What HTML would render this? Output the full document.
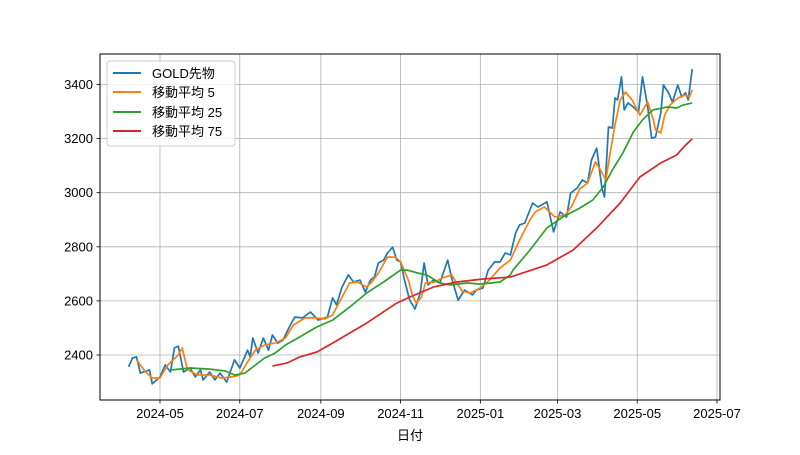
<!DOCTYPE html>
<html><head><meta charset="utf-8"><style>
body{margin:0;background:#fff}
svg text{font-family:"Liberation Sans","Noto Sans CJK JP",sans-serif;font-size:13px;fill:#000}
</style></head><body>
<svg id="chart" width="800" height="450" xmlns="http://www.w3.org/2000/svg">
<rect width="800" height="450" fill="#fff"/>
<g id="grid"></g>
<g id="series"></g>
<rect x="100" y="54" width="620" height="346" fill="none" stroke="#000" stroke-width="1"/>
<g id="axes"></g>
<text x="410" y="440" text-anchor="middle">日付</text>
<g>
<rect x="107" y="61" width="128" height="85" rx="3" fill="#fff" fill-opacity="0.8" stroke="#ccc"/>
<g><line x1="113" y1="73" x2="141" y2="73" stroke="#1f77b4" stroke-width="2"/><text x="152" y="78">GOLD先物</text></g>
<g><line x1="113" y1="92" x2="141" y2="92" stroke="#ff7f0e" stroke-width="2"/><text x="152" y="97">移動平均 5</text></g>
<g><line x1="113" y1="112" x2="141" y2="112" stroke="#2ca02c" stroke-width="2"/><text x="152" y="117">移動平均 25</text></g>
<g><line x1="113" y1="131" x2="141" y2="131" stroke="#d62728" stroke-width="2"/><text x="152" y="136">移動平均 75</text></g>
</g>
</svg>
<script>
// days since 2024-05-01
const goldDays=[-24,-21,-18,-15,-8,-6,0,4,8,11,14,18,23,27,31,33,38,42,46,51,57,61,67,69,71,75,79,83,86,90,94,99,103,109,115,121,128,132,135,139,144,148,153,157,161,164,167,171,174,178,181,184,187,191,195,199,202,205,209,214,220,223,228,233,239,242,247,251,256,260,264,268,272,275,279,285,289,296,301,306,311,314,319,323,327,330,334,338,340,343,346,348,350,353,355,358,362,366,369,373,376,379,383,385,389,392,396,399,402,404,407];
const goldValues=[2356,2389,2393,2333,2345,2293,2319,2363,2337,2426,2433,2337,2352,2319,2345,2308,2337,2308,2333,2300,2382,2352,2418,2393,2463,2407,2463,2418,2474,2444,2455,2504,2540,2537,2559,2529,2540,2611,2585,2648,2696,2670,2677,2633,2677,2688,2740,2751,2777,2799,2751,2744,2677,2603,2570,2629,2740,2659,2677,2666,2751,2685,2603,2640,2622,2640,2648,2714,2744,2744,2777,2770,2851,2881,2888,2962,2947,2966,2855,2929,2910,2999,3017,3047,3036,3121,3165,3017,2984,3243,3239,3350,3343,3428,3306,3332,3317,3298,3428,3317,3202,3206,3295,3398,3369,3335,3398,3354,3369,3343,3457];
const ma5Days=[-18,-11,-6,0,6,14,17,21,29,38,47,55,61,67,73,80,88,96,102,111,119,126,132,138,145,151,158,162,167,174,180,184,190,193,196,200,203,210,216,223,227,231,237,245,252,260,268,275,283,287,294,302,310,315,321,327,333,337,341,344,348,352,356,361,367,373,377,379,383,386,390,396,402,405,407];
const ma5Values=[2382,2337,2315,2315,2363,2400,2426,2345,2326,2326,2315,2319,2326,2374,2418,2437,2444,2463,2511,2537,2537,2533,2548,2603,2666,2670,2651,2670,2703,2762,2762,2744,2677,2622,2592,2614,2666,2670,2685,2696,2666,2637,2629,2648,2677,2722,2751,2825,2899,2929,2947,2910,2918,2951,3014,3036,3114,3084,3047,3139,3250,3343,3372,3343,3287,3335,3276,3232,3221,3287,3324,3350,3361,3354,3380];
const ma25Days=[9,23,38,50,57,65,73,80,88,96,107,120,132,145,158,171,184,189,197,204,214,222,235,245,260,268,270,283,296,308,321,331,339,346,354,362,369,377,388,395,400,407];
const ma25Values=[2345,2352,2348,2341,2326,2333,2363,2389,2407,2437,2467,2504,2529,2577,2629,2670,2714,2714,2703,2696,2666,2659,2666,2662,2670,2696,2714,2788,2870,2910,2943,2973,3021,3084,3147,3224,3269,3306,3317,3313,3324,3332];
const ma75Days=[86,97,107,120,132,158,181,191,209,227,247,268,296,316,334,352,367,383,395,402,407];
const ma75Values=[2359,2370,2393,2411,2444,2518,2592,2614,2651,2670,2681,2688,2733,2788,2870,2962,3058,3110,3139,3176,3199];
const xTickDays=[0,61,123,184,245,304,365,426];
const xTickLabels=["2024-05","2024-07","2024-09","2024-11","2025-01","2025-03","2025-05","2025-07"];
const yTicks=[2400,2600,2800,3000,3200,3400];

const X=d=>160+d*1.3075;
const Y=v=>355-(v-2400)*0.2705;
const NS="http://www.w3.org/2000/svg";
const grid=document.getElementById('grid'),axes=document.getElementById('axes'),ser=document.getElementById('series');
function mk(tag,attrs,parent){const e=document.createElementNS(NS,tag);for(const k in attrs)e.setAttribute(k,attrs[k]);parent.appendChild(e);return e;}
xTickDays.forEach((d,i)=>{
  const x=X(d);
  const g=mk('line',{x1:x,y1:54,x2:x,y2:400,stroke:'#b0b0b0','stroke-width':0.8},grid);
  
  
  const t=mk('line',{x1:x,y1:400,x2:x,y2:403.5,stroke:'#000','stroke-width':0.8},axes);
  
  
  const l=mk('text',{x:x,y:418,'text-anchor':'middle'},axes);
  l.textContent=xTickLabels[i];
  
  
});
yTicks.forEach(v=>{
  const y=Y(v);
  const g=mk('line',{x1:100,y1:y,x2:720,y2:y,stroke:'#b0b0b0','stroke-width':0.8},grid);
  
  
  const t=mk('line',{x1:96.5,y1:y,x2:100,y2:y,stroke:'#000','stroke-width':0.8},axes);
  
  
  const l=mk('text',{x:93,y:y+4.5,'text-anchor':'end'},axes);
  l.textContent=v;
  
  
});
function line(days,vals,color,name){
  const pts=days.map((d,i)=>X(d).toFixed(1)+','+Y(vals[i]).toFixed(1)).join(' ');
  const p=mk('polyline',{points:pts,fill:'none',stroke:color,'stroke-width':1.7,'stroke-linejoin':'round'},ser);
  
  
}
line(goldDays,goldValues,'#1f77b4','gold-line');
line(ma5Days,ma5Values,'#ff7f0e','ma5-line');
line(ma25Days,ma25Values,'#2ca02c','ma25-line');
line(ma75Days,ma75Values,'#d62728','ma75-line');
</script>
</body></html>
